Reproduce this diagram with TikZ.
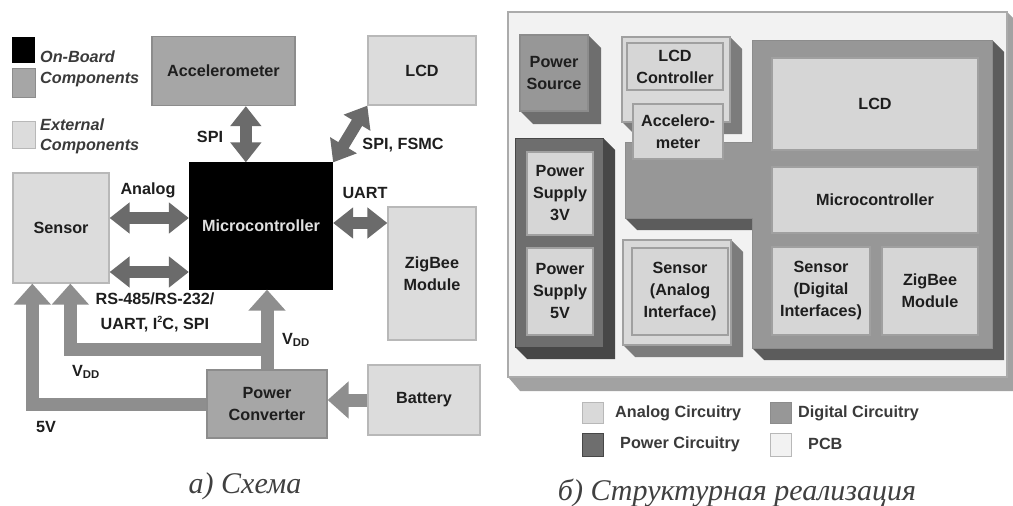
\documentclass[tikz,border=0pt]{standalone}
\usepackage{fontspec}
\setmainfont{Liberation Sans}
\newfontfamily\capfont{Liberation Serif}
\usetikzlibrary{arrows.meta,calc}
\definecolor{lightbox}{HTML}{DCDCDC}
\definecolor{lightedge}{HTML}{B8B8B8}
\definecolor{midbox}{HTML}{A6A6A6}
\definecolor{midedge}{HTML}{8C8C8C}
\definecolor{arrdark}{HTML}{6B6B6B}
\definecolor{pwrgray}{HTML}{8E8E8E}
\definecolor{pcbfront}{HTML}{F2F2F2}
\definecolor{pcbedge}{HTML}{ABABAB}
\definecolor{pcbslab}{HTML}{A2A2A2}
\definecolor{anafront}{HTML}{D9D9D9}
\definecolor{anashadow}{HTML}{7C7C7C}
\definecolor{digfront}{HTML}{979797}
\definecolor{digshadow}{HTML}{5C5C5C}
\definecolor{pwrfront}{HTML}{6E6E6E}
\definecolor{pwrshadow}{HTML}{474747}
\definecolor{innerfill}{HTML}{D6D6D6}
\definecolor{inneredge}{HTML}{A0A0A0}
\definecolor{legtext}{HTML}{3A3A3A}
\definecolor{captext}{HTML}{404040}
\definecolor{boxtext}{HTML}{1E1E1E}
\newcommand\blkshadow[6]{%
  \fill[#6] (#3,#2) -- ({#3+#5},{#2+#5}) -- ({#3+#5},{#4+#5}) -- ({#1+#5},{#4+#5}) -- (#1,#4) -- (#3,#4) -- cycle;}
\newcommand\smallsup[1]{\raisebox{0.75ex}{\fontsize{9}{9}\selectfont #1}}
\begin{document}
\begin{tikzpicture}[x=1pt,y=-1pt,
  txt/.style={font=\bfseries\fontsize{16.2}{22}\selectfont, align=center, inner sep=0pt, text=boxtext},
  box/.style={txt, draw, line width=1.3pt, minimum width=#1},
  lbox/.style={box=#1, fill=lightbox, draw=lightedge},
  mbox/.style={box=#1, fill=midbox, draw=midedge},
  ibox/.style={box=#1, fill=innerfill, draw=inneredge, line width=1.5pt},
  dbl/.style={draw=arrdark, line width=12pt, {Triangle[length=20pt,width=30pt]}-{Triangle[length=20pt,width=30pt]}},
  pwr/.style={draw=pwrgray, line width=13pt, -{Triangle[length=21pt,width=36pt]}},
  leg/.style={txt, text=legtext, anchor=west},
  legit/.style={leg, font=\bfseries\itshape\fontsize{16.2}{22}\selectfont},
  captionstyle/.style={font=\capfont\itshape\fontsize{30}{34}\selectfont, text=captext, anchor=base, inner sep=0pt}
]
\useasboundingbox (0,0) rectangle (1013,506);
\fill[white] (0,0) rectangle (1013,506);

% ---------------- left panel ----------------
% legend
\fill[black] (12,37) rectangle (35,63);
\filldraw[fill=midbox, draw=midedge, line width=1pt] (12,68) rectangle (35,97);
\filldraw[fill=lightbox, draw=lightedge, line width=1pt] (12,121) rectangle (35,148);
\node[legit] (lg1) at (40,57) {On-Board};
\node[legit] (lg2) at (40,80) {Components};
\node[legit] (lg3) at (40,125) {External};
\node[legit] (lg4) at (40,147) {Components};

% boxes
\node[mbox=143pt, minimum height=69pt] (acc) at (223.5,71) {Accelerometer};
\node[lbox=108pt, minimum height=69pt] (lcd) at (422,70.5) {LCD};
\node[box=143pt, minimum height=126pt, fill=black, draw=black, text=white!88!black] (mc) at (261,226) {Microcontroller};
\node[lbox=96pt, minimum height=110pt] (sensor) at (61,228) {Sensor};
\node[lbox=88pt, minimum height=133pt] (zig) at (432,273.5) {ZigBee\\Module};
\node[mbox=120pt, minimum height=68pt] (pc) at (267,404) {Power\\Converter};
\node[lbox=112pt, minimum height=70pt] (bat) at (424,400) {Battery};

% connectors
\coordinate (spix) at ($(mc.north west)+(57,0)$);
\draw[dbl] (spix) -- (spix |- acc.south);
\draw[dbl] (mc.north east) -- (lcd.south west);
\draw[dbl] (sensor.east |- 0,218) -- (mc.west |- 0,218);
\draw[dbl] (sensor.east |- 0,272) -- (mc.west |- 0,272);
\draw[dbl] (mc.east |- 0,223) -- (zig.west |- 0,223);
\draw[pwr] (pc.west) -| ($(sensor.south west)+(20,0)$);
\draw[pwr] (pc.north |- 0,349) -| ($(sensor.south west)+(58,0)$);
\draw[pwr] (pc.north) -- (pc.north |- mc.south);
\draw[pwr] (bat.west) -- (pc.east |- bat.west);

% labels
\node[txt] (lspi) at (210,137) {SPI};
\node[txt] (lfsmc) at (403,145) {SPI, FSMC};
\node[txt] (lana) at (148,190) {Analog};
\node[txt] (luart) at (365,193) {UART};
\node[txt, font=\bfseries\fontsize{16.2}{25}\selectfont] (lrs) at (155,312) {RS-485/RS-232/\\UART, I\smallsup{2}C, SPI};
\node[txt] (lvdd1) at (296,340) {V\textsubscript{DD}};
\node[txt] (lvdd2) at (86,372) {V\textsubscript{DD}};
\node[txt] (l5v) at (46,427) {5V};

\node[captionstyle] (capa) at (245,493) {а) Схема};

% ---------------- right panel ----------------
% PCB
\fill[pcbslab] (508,377) -- (520,391) -- (1019,391) -- (1019,24) -- (1007,12) -- (1007,377) -- cycle;
\filldraw[fill=pcbfront, draw=pcbedge, line width=1.2pt] (508,12) rectangle (1007,377);

% power source block
\blkshadow{520}{35}{588}{111}{13}{pwrfront}
\node[box=68pt, minimum height=76pt, fill=digfront, draw=midedge] (psrc) at (554,73) {Power\\Source};

% LCD controller block (analog)
\blkshadow{622}{37}{730}{122}{12}{anashadow}
\filldraw[fill=anafront, draw=inneredge, line width=1.2pt] (622,37) rectangle (730,122);

% digital L region
\fill[digshadow] (992,40) -- (1004,52) -- (1004,360) -- (764,360) -- (752,348) -- (992,348) -- cycle;
\fill[digshadow] (625,218) -- (637,230) -- (752,230) -- (752,218) -- cycle;
\filldraw[fill=digfront, draw=midedge, line width=1pt] (625,142) -- (752,142) -- (752,40) -- (992,40) -- (992,348) -- (752,348) -- (752,218) -- (625,218) -- cycle;

% power block
\blkshadow{515}{138}{603}{347}{12}{pwrshadow}
\filldraw[fill=pwrfront, draw=pwrshadow, line width=1pt] (515,138) rectangle (603,347);

% sensor analog block
\blkshadow{623}{240}{731}{345}{12}{anashadow}
\filldraw[fill=anafront, draw=inneredge, line width=1.2pt] (623,240) rectangle (731,345);

% inner boxes
\node[ibox=96pt, minimum height=47pt] (ctrl) at (675,66.5) {LCD\\Controller};
\node[ibox=90pt, minimum height=55pt] (accr) at (678,131.5) {Accelero-\\meter};
\node[ibox=66pt, minimum height=83pt] (ps3) at (560,193.5) {Power\\Supply\\3V};
\node[ibox=66pt, minimum height=87pt] (ps5) at (560,291.5) {Power\\Supply\\5V};
\node[ibox=96pt, minimum height=87pt] (sana) at (680,291.5) {Sensor\\(Analog\\Interface)};
\node[ibox=206pt, minimum height=92pt] (rlcd) at (875,104) {LCD};
\node[ibox=206pt, minimum height=66pt] (rmc) at (875,200) {Microcontroller};
\node[ibox=98pt, minimum height=88pt] (sdig) at (821,291) {Sensor\\(Digital\\Interfaces)};
\node[ibox=96pt, minimum height=88pt] (rzig) at (930,291) {ZigBee\\Module};

% legend
\filldraw[fill=anafront, draw=lightedge, line width=1pt] (582,402) rectangle (603,423);
\filldraw[fill=digfront, draw=midedge, line width=1pt] (770,402) rectangle (791,423);
\filldraw[fill=pwrfront, draw=pwrshadow, line width=1pt] (582,433) rectangle (603,456);
\filldraw[fill=pcbfront, draw=lightedge, line width=1pt] (770,433) rectangle (791,456);
\node[leg] (la) at (615,413) {Analog Circuitry};
\node[leg] (ld) at (798,413) {Digital Circuitry};
\node[leg] (lp) at (620,444) {Power Circuitry};
\node[leg] (lpcb) at (808,444) {PCB};

\node[captionstyle] (capb) at (737,500) {б) Структурная реализация};
\end{tikzpicture}
\end{document}
